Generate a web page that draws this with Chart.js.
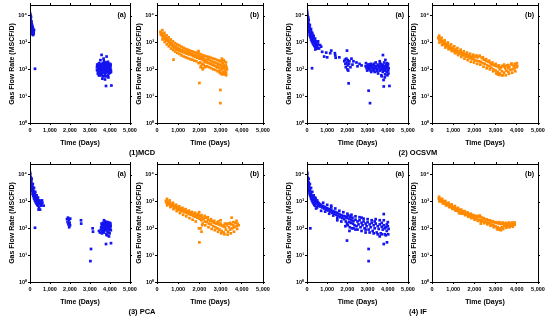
<!DOCTYPE html>
<html>
<head>
<meta charset="utf-8">
<script src="https://cdn.jsdelivr.net/npm/chart.js@4.4.0/dist/chart.umd.min.js"></script>
<style>
body{margin:0;background:#fff;width:550px;height:320px;position:relative;overflow:hidden;font-family:"Liberation Sans",Arial,sans-serif}
canvas{position:absolute}
.cap{position:absolute;z-index:5;font-weight:bold;font-size:7.5px;transform:translate(-50%,-50%);white-space:nowrap;color:#000}
</style>
</head>
<body>
<div class="cap" style="left:142px;top:152px">(1)MCD</div>
<div class="cap" style="left:418px;top:152px">(2) OCSVM</div>
<div class="cap" style="left:142px;top:311px">(3) PCA</div>
<div class="cap" style="left:418px;top:311px">(4) IF</div>
<script>
// tick labels
const yTicks = [1, 10, 100, 1000, 10000];
const yLabels = ['10⁰', '10¹', '10²', '10³', '10⁴'];

// [days, MSCF/D]
const mcdA = [[0,12500],[5,9500],[10,11000],[15,8000],[20,9000],[25,7000],[30,7800],[35,6000],[40,6800],[45,5200],[50,5800],[55,4600],[60,5000],[65,4100],[70,4500],[75,3700],[80,4000],[85,3300],[90,3600],[95,3000],[100,3300],[110,2800],[120,3000],[130,2500],[140,2700],[150,2300],[160,2400],[170,2100],[120,2200],[60,3800],[30,5200],[90,4800],[250,105],
  [15,5000],[40,3500],[70,2800],[100,2300],[130,3800],[160,3200],[180,2600],[140,2000],[5,7000],[50,9000],[110,4200],[200,2900],[185,2200],[25,10000],[75,6000],[150,1900],
  [3350,120],[3380,90],[3400,150],[3420,110],[3440,80],[3460,130],[3480,100],[3500,160],[3520,70],[3540,120],[3560,95],[3580,140],[3600,110],[3620,75],[3640,170],[3660,120],[3680,90],[3700,150],[3720,105],[3740,65],[3760,130],[3780,95],[3800,180],[3820,115],[3840,80],[3860,140],[3880,100],[3900,60],[3920,125],[3940,90],[3960,150],[3980,110],[4000,75],[4020,130],[4040,95],[3450,170],[3550,85],[3650,145],[3750,100],[3850,160],[3950,70],[3600,130],[3700,80],[3800,110],[3900,140],[3500,100],[3400,130],[3650,55],[3850,55],[3580,345],[3830,300],[3750,42],[3800,24],[4070,25],[3620,45],[3700,200],[3900,190],[3480,60],[4000,160],[3350,95],
  [3360,150],[3390,70],[3410,100],[3430,140],[3470,90],[3490,125],[3510,110],[3530,150],[3570,125],[3590,70],[3610,150],[3630,100],[3670,135],[3690,165],[3710,125],[3730,90],[3770,160],[3790,75],[3810,140],[3830,100],[3870,120],[3890,170],[3910,80],[3930,105],[3970,130],[3990,90],[4010,115],[4030,150],[4050,80],[3440,60],[3560,60],[3760,55],[3920,50],[3680,250],[3520,220]];

const mcdB = [[160,2500],[180,2000],[200,2300],[220,1900],[240,2100],[260,1700],[280,1950],[300,1600],[320,1800],[340,1450],[360,1650],[380,1350],[400,1500],[430,1250],[460,1400],[490,1150],[520,1250],[550,1000],[580,1150],[610,900],[640,1000],[670,820],[700,900],[730,740],[760,820],[790,650],[820,740],[780,230],[850,620],[880,700],[910,580],[940,650],[970,540],[1000,600],[1040,500],[1080,560],[1120,470],[1160,530],[1200,440],[1250,500],[1300,410],[1350,460],[1400,380],[1450,430],[1500,360],[1550,400],[1600,340],[1650,380],[1700,310],[1750,350],[1800,290],[1850,330],[1900,270],[1950,320],[1960,480],[2000,250],[2000,31],[2020,300],[2040,180],[2060,270],[2080,130],[2100,240],[2120,160],[2140,280],[2160,110],[2180,220],[2200,150],[2220,250],[2250,190],[2280,230],[2300,130],[2330,210],[2360,180],[2400,240],[2440,170],[2480,220],[2520,160],[2560,200],[2600,150],[2640,190],[2680,140],[2720,180],[2760,130],[2800,170],[2840,120],[2880,160],[2920,110],[2950,200],[2980,90],[2990,17],[2990,5.5],[3000,150],[3020,70],[3040,130],[3060,250],[3080,100],[3100,170],[3120,80],[3140,140],[3160,65],[3180,120],[3200,190],[3220,90],[3240,140],[3260,75],[3280,120],[3300,100],[3050,110],[3150,110],[2900,140],
  [250,2900],[350,2300],[450,1850],[550,1550],[650,1300],[750,1100],[850,950],[950,850],[1050,780],[1150,700],[1250,640],[1350,580],[1450,540],[1550,500],[1650,470],[1750,440],[1850,420],[1950,400],[2050,370],[2150,340],[2250,320],[2350,300],[2450,290],[2550,270],[2650,250],[2750,240],[2850,220],[2950,210],[3050,200],[3150,220],[3250,180],
  [260,1300],[360,1050],[460,850],[560,720],[660,600],[760,520],[860,460],[960,410],[1060,370],[1160,330],[1260,300],[1360,280],[1460,260],[1560,240],[1660,230],[1760,210],[1860,200],[1960,170],[2060,120],[2160,100],[2260,120],[2360,130],[2460,120],[2560,110],[2660,100],[2760,95],[2860,85],[2960,75],[3060,65],[3160,70],[3260,60]];

const ocsvmA = [[0,15000],[5,11000],[10,12500],[15,9000],[20,10000],[30,8000],[40,7000],[50,6000],[60,6500],[70,5000],[80,4200],[90,4600],[100,3600],[110,3900],[120,3000],[130,3300],[140,2600],[150,2800],[160,2300],[170,2500],[180,2000],[190,2200],[200,1800],[220,1900],[240,1500],[260,1700],[280,1300],[300,1450],[320,1150],[340,1250],[360,1050],[380,1150],[400,950],[420,1000],[440,880],[460,950],[480,800],[500,850],[410,550],[440,700],[470,650],[350,900],[250,1200],[120,4200],[60,8500],[200,2600],[300,1900],[520,780],[540,900],
  [10,6000],[30,4500],[50,3800],[70,3000],[100,2400],[130,1900],[160,1600],[200,1300],[240,1100],[280,950],[320,850],[360,750],[400,700],[450,600],[80,7000],[140,4500],[200,3200],[260,2300],[330,1700],[400,1400],[470,1100],[530,600],[550,1100],
  [600,600],[650,800],[700,700],[750,450],[850,300],[950,420],[1000,280],[1150,400],[1200,500],[1380,400],[1400,330],[1420,270],[1600,280],[1850,200],[1880,230],[1900,160],[1920,120],[1950,250],[1980,500],[1990,180],[2000,100],[2010,140],[2020,220],[2040,90],[2060,30],[2080,160],[2100,200],[2150,120],[2200,250],[2250,150],[2300,200],[2450,180],[2500,130],[2600,160],[2700,140],
  [2900,130],[2950,110],[3000,150],[3050,100],[3050,16],[3120,5.5],[3100,130],[3150,90],[3200,140],[3250,110],[3300,160],[3350,80],[3400,120],[3450,100],[3500,150],[3520,70],[3550,120],[3600,90],[3620,170],[3650,130],[3680,60],[3700,110],[3720,150],[3750,80],[3760,340],[3780,120],[3800,95],[3820,180],[3850,130],[3870,65],[3880,225],[3900,110],[3920,150],[3940,80],[3960,120],[3980,60],[4000,140],[4020,90],[4040,110],[3790,40],[3800,23],[4080,24],[3400,180],[3300,90],[3150,160],[3600,200],[3950,170],[3700,55],[3850,50],[250,110],
  [2920,170],[2980,90],[3020,120],[3080,150],[3130,110],[3180,80],[3230,130],[3280,100],[3330,140],[3380,110],[3430,130],[3480,85],[3530,140],[3580,110],[3630,95],[3660,150],[3730,100],[3770,140],[3830,110],[3860,90],[3910,130],[3970,100],[4010,160],[4030,70]];

const ocsvmB = [[300,1500],[330,1300],[360,1400],[390,1200],[420,1300],[450,1050],[480,1150],[510,950],[540,1050],[570,860],[600,950],[640,800],[680,880],[720,720],[760,800],[800,650],[840,720],[880,580],[920,650],[960,540],[1000,600],[1040,490],[1080,550],[1120,450],[1160,510],[1200,420],[1250,470],[1300,390],[1350,440],[1400,350],[1450,400],[1500,330],[1550,370],[1600,300],[1650,350],[1700,280],[1750,330],[1800,260],[1850,300],[1900,240],[1950,290],[2000,230],[2050,300],[2100,210],[2150,280],[2200,200],[2250,320],[2300,190],[2350,260],[2400,170],[2450,230],[2500,160],[2550,210],[2600,140],[2650,190],[2700,130],[2750,170],[2800,115],[2850,150],[2900,100],[2950,140],[3000,90],[3050,130],[3100,80],[3150,120],[3200,70],[3250,115],[3300,85],[3350,130],[3400,75],[3450,110],[3500,90],[3550,140],[3600,80],[3650,120],[3700,95],[3750,150],[3800,100],[3850,130],[3900,110],[3950,150],[4000,120],[4020,135],[3000,140],[3200,100],[3400,150],[3600,110],[2800,160],[3100,65],[3300,60],
  [340,1800],[450,1500],[600,1200],[750,1000],[900,850],[1050,720],[1200,620],[1350,540],[1500,470],[1650,420],[1800,380],[1950,350],[2100,330],[2250,310],[2400,280],[2550,240],[2700,210],[2850,180],[3000,160],[3150,140],[3300,135],[3450,130],[3600,145],[3750,165],[3900,160],[4000,170],
  [350,1000],[480,800],[630,650],[780,560],[930,480],[1080,400],[1230,340],[1380,290],[1530,250],[1680,220],[1830,190],[1980,180],[2130,160],[2280,150],[2430,125],[2580,110],[2730,100],[2880,85],[3030,70],[3180,62],[3330,60],[3480,60],[3630,68],[3780,75],[3930,85]];

const pcaA = [[0,12000],[5,9000],[10,10500],[20,8000],[30,7000],[40,6200],[50,5500],[60,6000],[70,4600],[80,4000],[90,4300],[100,3400],[110,3700],[120,2900],[130,3100],[140,2500],[150,2700],[160,2200],[170,2400],[180,1900],[190,2100],[200,1700],[220,1800],[240,1450],[260,1600],[280,1250],[300,1400],[320,1100],[340,1200],[360,1000],[380,1100],[400,900],[420,1000],[440,850],[460,950],[480,800],[500,900],[520,1000],[540,850],[560,950],[580,800],[430,500],[500,500],[450,600],[680,700],[620,900],[50,7500],[150,3300],[250,2000],[350,1400],[250,105],
  [10,6000],[30,4500],[50,3800],[70,3000],[100,2400],[130,1900],[160,1600],[200,1300],[240,1100],[280,950],[320,850],[360,750],[400,700],[80,7000],[140,4500],[200,3200],[260,2300],[330,1700],[400,1400],[470,1100],[550,700],[600,1100],
  [1850,220],[1880,170],[1900,250],[1920,140],[1950,200],[1960,110],[1980,160],[2000,130],[2010,230],[2550,200],[2560,150],[3130,100],[3150,75],[3050,17],[3020,6],
  [3450,80],[3500,70],[3550,90],[3600,120],[3620,80],[3650,160],[3680,100],[3700,70],[3720,140],[3740,110],[3760,180],[3780,85],[3800,130],[3820,60],[3840,150],[3860,100],[3880,75],[3900,170],[3920,120],[3940,90],[3960,140],[3980,65],[4000,110],[4020,150],[4040,85],[3700,200],[3850,55],[3950,50],[3800,26],[4050,28],[3600,65],[3750,125],[3900,95],[4000,130],[3650,105],
  [3610,140],[3630,100],[3660,130],[3690,80],[3710,160],[3730,95],[3770,120],[3790,150],[3810,100],[3830,170],[3870,130],[3890,110],[3910,140],[3930,70],[3970,100],[3990,160],[4010,90],[4030,120],[3560,110],[3580,150]];

const pcaB = [[420,1050],[450,900],[480,1000],[510,850],[540,950],[570,800],[600,880],[640,740],[680,820],[720,680],[760,740],[800,620],[840,680],[880,570],[920,630],[960,530],[1000,590],[1040,490],[1080,550],[1120,460],[1160,520],[1200,430],[1250,480],[1300,400],[1350,450],[1400,370],[1450,420],[1500,340],[1550,390],[1600,320],[1650,360],[1700,290],[1750,340],[1800,270],[1850,320],[1900,250],[1950,300],[1990,400],[2000,230],[2000,30],[2020,280],[2050,100],[2080,210],[2100,75],[2120,260],[2150,150],[2200,230],[2250,180],[2300,250],[2350,170],[2400,210],[2450,150],[2500,190],[2550,140],[2600,180],[2650,120],[2700,160],[2750,110],[2800,150],[2850,100],[2900,140],[2950,90],[3000,130],[3050,80],[3100,120],[3150,70],[3200,110],[3250,90],[3300,130],[3350,75],[3400,110],[3450,90],[3500,140],[3520,250],[3550,100],[3600,130],[3650,110],[3700,160],[3750,120],[3800,150],[3850,130],[2100,200],[3000,200],[3200,150],[2900,180],[3400,150],
  [470,1250],[600,1100],[750,900],[900,760],[1050,660],[1200,580],[1350,520],[1500,460],[1650,410],[1800,380],[1950,340],[2100,310],[2250,290],[2400,260],[2550,220],[2700,190],[2850,165],[3000,150],[3150,130],[3300,150],[3450,160],[3600,170],[3750,190],
  [480,720],[630,620],[780,520],[930,440],[1080,370],[1230,320],[1380,280],[1530,240],[1680,210],[1830,180],[1980,100],[2130,130],[2280,130],[2430,110],[2580,95],[2730,85],[2880,75],[3030,65],[3180,60],[3330,58],[3480,65],[3630,75],[3780,95]];

const ifA = [[0,12000],[5,9500],[10,11000],[20,8000],[30,6800],[40,7200],[50,5500],[60,4800],[70,5200],[80,3800],[90,4100],[100,3200],[110,3500],[120,2700],[130,2900],[140,2300],[150,2500],[160,2000],[170,2200],[180,1800],[200,1900],[220,1500],[240,1650],[260,1300],[280,1450],[300,1150],[320,1300],[340,1050],[360,1150],[380,950],[400,1050],[420,1300],[440,900],[460,1000],[480,850],[500,1100],[520,800],[540,950],[560,750],[580,850],[600,700],[620,800],[450,550],[500,600],[165,100],
  [10,6000],[30,4500],[50,3800],[70,3000],[100,2400],[130,1900],[160,1600],[200,1300],[240,1100],[280,950],[320,850],[360,750],[400,700],[80,7000],[140,4500],[200,3200],[260,2300],[330,1700],[400,1400],[470,1100],[550,700],
  [650,650],[700,750],[750,600],[800,680],[850,550],[900,620],[950,500],[1000,560],[1050,460],[1100,520],[1150,420],[1200,480],[1250,380],[1300,440],[1350,350],[1400,410],[1450,320],[1500,380],[1550,290],[1600,340],[1650,260],[1700,310],[1750,240],[1800,290],[1850,220],[1900,280],[1920,180],[1950,260],[1980,150],[1980,35],[2000,240],[2020,130],[2050,300],[2080,170],[2100,220],[2120,110],[2150,270],[2180,160],[2200,200],[2220,100],[2250,250],[2280,150],[2300,190],[2350,130],[2400,210],[2450,120],[2500,180],[2550,140],[2600,200],[2650,110],[2700,160],[2750,130],[2800,180],[2850,100],[2900,150],[2950,120],[3000,170],[3050,90],[3050,17],[3050,6],[3100,140],[3150,110],[3200,160],[3250,80],[3300,130],[3350,100],[3400,150],[3450,70],[3500,120],[3550,95],[3600,140],[3650,65],[3700,115],[3750,90],[3800,340],[3800,130],[3800,26],[3850,60],[3900,110],[3950,80],[3960,30],[4000,120],[4020,60],[4040,95],[2400,90],[2900,70],[3600,50],[1200,600],[1500,250],[3350,180],[2700,250],[3700,160],
  [700,450],[800,900],[900,420],[1000,750],[1100,350],[1200,700],[1300,300],[1400,550],[1500,200],[1600,450],[1700,180],[1800,400],[1900,120],[2000,350],[2100,80],[2200,320],[2300,100],[2400,280],[2500,90],[2600,260],[2700,80],[2800,230],[2900,90],[3000,220],[3100,70],[3200,200],[3300,65],[3400,220],[3500,60],[3600,200],[3700,60],[3800,200],[3900,55],[4000,170],[3950,140],[3850,100]];

const ifB = [[320,1300],[350,1150],[380,1250],[410,1050],[440,1150],[470,980],[500,1050],[530,900],[560,980],[590,840],[620,900],[660,780],[700,840],[740,720],[780,780],[820,660],[860,720],[900,610],[940,660],[980,560],[1020,610],[1060,520],[1100,570],[1140,480],[1180,530],[1220,450],[1260,490],[1300,420],[1350,460],[1400,390],[1450,430],[1500,360],[1550,400],[1600,330],[1650,370],[1700,300],[1750,340],[1800,280],[1850,320],[1900,260],[1950,300],[2000,240],[2050,280],[2100,225],[2150,270],[2200,210],[2250,300],[2300,200],[2350,250],[2400,185],[2450,230],[2500,175],[2550,210],[2600,165],[2650,200],[2700,155],[2750,185],[2800,140],[2850,175],[2900,130],[2950,165],[3000,120],[3050,160],[3100,110],[3150,150],[3200,100],[3250,145],[3300,110],[3350,150],[3400,120],[3450,145],[3500,125],[3550,150],[3600,120],[3650,140],[3700,125],[3750,150],[3800,130],[3850,145],[3900,135],[3250,85],[3100,90],[2300,150],[1300,360],
  [340,1500],[480,1250],[630,1050],[780,900],[930,780],[1080,680],[1230,580],[1380,500],[1530,440],[1680,390],[1830,350],[1980,310],[2130,290],[2280,270],[2430,240],[2580,215],[2730,200],[2880,185],[3030,170],[3180,170],[3330,165],[3480,160],[3630,165],[3780,165],[3900,165],
  [360,1000],[510,850],[660,720],[810,620],[960,530],[1110,460],[1260,400],[1410,350],[1560,310],[1710,270],[1860,240],[2010,210],[2160,190],[2310,175],[2460,155],[2610,140],[2760,125],[2910,110],[3060,100],[3210,90],[3360,95],[3510,105],[3660,110],[3810,115]];

const BLUE = '#1414f0';
const ORANGE = '#ff8a00';

Chart.defaults.font.family = '"Liberation Sans", Arial, sans-serif';
Chart.defaults.color = '#000';

// frame around plot area, ticks on top/right, (a)/(b) tag
const framePlugin = {
  id: 'frame',
  afterDraw(chart, args, opts) {
    const {ctx, chartArea: a, scales} = chart;
    ctx.save();
    ctx.strokeStyle = '#000';
    ctx.lineWidth = 1;
    ctx.strokeRect(Math.round(a.left) + 0.5, Math.round(a.top) + 0.5, Math.round(a.right - a.left), Math.round(a.bottom - a.top));
    ctx.beginPath();
    scales.x.ticks.forEach(t => {
      const px = Math.round(scales.x.getPixelForValue(t.value)) + 0.5;
      ctx.moveTo(px, a.top);
      ctx.lineTo(px, a.top - 2);
    });
    scales.y.ticks.forEach(t => {
      const py = Math.round(scales.y.getPixelForValue(t.value)) + 0.5;
      ctx.moveTo(a.right, py);
      ctx.lineTo(a.right + 2, py);
    });
    ctx.stroke();
    ctx.fillStyle = '#000';
    ctx.font = 'bold 7px "Liberation Sans", Arial';
    ctx.textAlign = 'right';
    ctx.textBaseline = 'middle';
    ctx.fillText(opts.tag, a.right - 4, a.top + 10);
    ctx.restore();
  }
};

const panels = [
  {data: mcdA,   color: BLUE,   tag: '(a)', left: 30,  right: 130, top: 5},
  {data: mcdB,   color: ORANGE, tag: '(b)', left: 157, right: 263, top: 5},
  {data: ocsvmA, color: BLUE,   tag: '(a)', left: 307, right: 408, top: 5},
  {data: ocsvmB, color: ORANGE, tag: '(b)', left: 432, right: 538, top: 5},
  {data: pcaA,   color: BLUE,   tag: '(a)', left: 30,  right: 130, top: 164},
  {data: pcaB,   color: ORANGE, tag: '(b)', left: 157, right: 263, top: 164},
  {data: ifA,    color: BLUE,   tag: '(a)', left: 307, right: 408, top: 164},
  {data: ifB,    color: ORANGE, tag: '(b)', left: 432, right: 538, top: 164}
];

panels.forEach(p => {
  const cv = document.createElement('canvas');
  cv.width = p.right - p.left + 40;
  cv.height = 150;
  cv.style.left = (p.left - 30) + 'px';
  cv.style.top = (p.top - 5) + 'px';
  document.body.appendChild(cv);

  new Chart(cv, {
    type: 'scatter',
    data: {
      datasets: [{
        data: p.data.map(d => ({x: d[0], y: d[1]})),
        backgroundColor: p.color,
        borderWidth: 0,
        pointStyle: 'rect',
        pointRadius: 1.9
      }]
    },
    options: {
      responsive: false,
      animation: false,
      devicePixelRatio: 1,
      layout: {padding: {top: 5, right: 10, left: 0, bottom: 0}},
      plugins: {legend: {display: false}, tooltip: {enabled: false}, frame: {tag: p.tag}},
      scales: {
        x: {
          type: 'linear', min: 0, max: 5000,
          afterFit: s => { s.height = 27; },
          ticks: {stepSize: 1000, maxRotation: 0, padding: 2, font: {size: 5.5, weight: 'bold'},
                  callback: v => v.toLocaleString('en-US')},
          grid: {drawOnChartArea: false, tickLength: 2, color: '#000'},
          border: {color: '#000'},
          title: {display: true, text: 'Time (Days)', font: {size: 7, weight: 'bold'}, padding: {top: 0, bottom: 3}}
        },
        y: {
          type: 'logarithmic', min: 1, max: 25000,
          afterFit: s => { s.width = 30; },
          afterBuildTicks: s => { s.ticks = yTicks.map(v => ({value: v})); },
          ticks: {padding: 1, font: {size: 5.5, weight: 'bold'},
                  callback: v => yLabels[yTicks.indexOf(v)]},
          grid: {drawOnChartArea: false, tickLength: 2, color: '#000'},
          border: {color: '#000'},
          title: {display: true, text: 'Gas Flow Rate (MSCF/D)', font: {size: 7, weight: 'bold'}, padding: {top: 8, bottom: 0}}
        }
      }
    },
    plugins: [framePlugin]
  });
});
</script>
</body>
</html>
